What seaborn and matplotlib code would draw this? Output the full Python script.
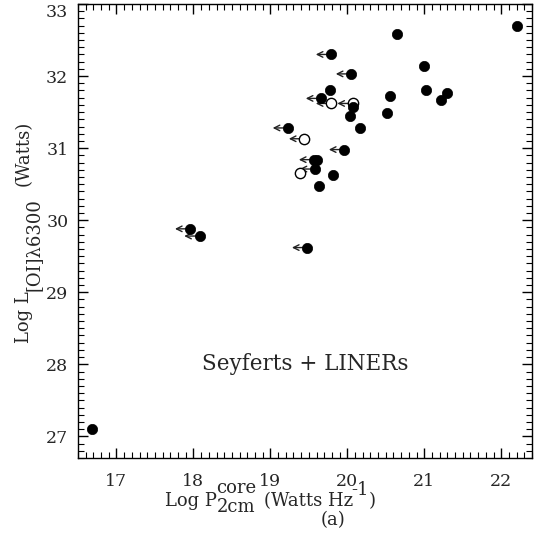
import numpy as np
import pandas as pd
import matplotlib
matplotlib.use("Agg")
import matplotlib.pyplot as plt
import seaborn as sns

# ---- data ----
filled_x = [16.68, 22.21, 19.79, 20.05, 19.78, 19.66, 20.07, 20.04, 19.23, 20.16,
            19.96, 19.57, 19.61, 19.58, 19.82, 19.63, 17.96, 18.08, 19.48,
            20.64, 20.99, 21.02, 20.56, 21.29, 21.22, 20.51]
filled_y = [27.10, 32.70, 32.30, 32.03, 31.80, 31.69, 31.57, 31.45, 31.28, 31.28,
            30.98, 30.84, 30.83, 30.71, 30.63, 30.48, 29.88, 29.78, 29.62,
            32.58, 32.14, 31.80, 31.72, 31.77, 31.67, 31.49]
filled_lim = [0, 0, 1, 1, 0, 1, 0, 0, 1, 0,
              1, 1, 0, 1, 0, 0, 1, 1, 1,
              0, 0, 0, 0, 0, 0, 0]

open_x = [19.79, 20.07, 19.44, 19.39]
open_y = [31.62, 31.62, 31.13, 30.66]
open_lim = [1, 1, 1, 0]

x_ticks = [17, 18, 19, 20, 21, 22]
y_ticks = [27, 28, 29, 30, 31, 32, 33]
annotation = "Seyferts + LINERs"
panel = "(a)"
# (text, vertical offset in px)
xlabel_pieces = [("Log P", 0), ("core", 13), ("2cm", -6),
                 ("(Watts Hz", 0), ("-1", 11), (")", 0)]
ylabel_pieces = [("Log L", 0), ("[OI]\u03bb6300", -10), ("(Watts)", 0)]

df_f = pd.DataFrame({"x": filled_x, "y": filled_y, "lim": filled_lim})
df_o = pd.DataFrame({"x": open_x, "y": open_y, "lim": open_lim})

sns.set_style("ticks")
plt.rcParams["font.family"] = ["DejaVu Serif"]
plt.rcParams["mathtext.fontset"] = "dejavuserif"

W, H = 536, 552
fig = plt.figure(figsize=(W / 100, H / 100), dpi=100)
ax = fig.add_axes([78/W, 1-458/H, (532-78)/W, (458-4)/H])

arrow_len = 0.2
for d in (df_f, df_o):
    for _, r in d[d["lim"] == 1].iterrows():
        ax.annotate("", xy=(r["x"] - arrow_len, r["y"]), xytext=(r["x"], r["y"]),
                    arrowprops=dict(arrowstyle="->", lw=1.0, color="#222222",
                                    shrinkA=0, shrinkB=0, mutation_scale=10),
                    zorder=2)

sns.scatterplot(data=df_o, x="x", y="y", ax=ax, s=55, facecolor="white",
                edgecolor="black", linewidth=1.0, zorder=3, legend=False)
sns.scatterplot(data=df_f, x="x", y="y", ax=ax, s=55, color="black",
                edgecolor="black", linewidth=0.5, zorder=4, legend=False)

ax.set_xlim(16.5, 22.4)
ax.set_ylim(26.7, 33.0)
ax.set_xticks(x_ticks)
ax.set_yticks(y_ticks)
ax.set_xticks(np.arange(16.5, 22.41, 0.1), minor=True)
ax.set_yticks(np.arange(26.7, 33.01, 0.1), minor=True)
ax.tick_params(which="both", direction="in", top=True, right=True, color="black")
ax.tick_params(which="major", length=7, width=1)
ax.tick_params(which="minor", length=4, width=0.8)
ax.tick_params(axis="x", which="major", labelsize=12.5, pad=11)
ax.tick_params(axis="y", which="major", labelsize=12.5, pad=7)
for s in ax.spines.values():
    s.set_color("black")
    s.set_linewidth(1)
ax.set_xlabel("")
ax.set_ylabel("")
ylabs = ax.get_yticklabels()
ylabs[-1].set_verticalalignment("top")

ax.text(19.45, 28.0, annotation, ha="center", va="center", fontsize=15.5)

renderer = fig.canvas.get_renderer()
FS = 13


def text_width(s, fs=FS):
    t = fig.text(0, 0, s, fontsize=fs)
    w = t.get_window_extent(renderer).width
    t.remove()
    return w


def layout(pieces, gap=7):
    widths = [text_width(p[0]) for p in pieces]
    starts = []
    cur = 0.0
    i = 0
    n = len(pieces)
    while i < n:
        off = pieces[i][1]
        if off > 0 and i + 1 < n and pieces[i + 1][1] < 0:
            starts += [cur, cur]
            cur += max(widths[i], widths[i + 1])
            if i + 2 < n:
                cur += gap
            i += 2
            continue
        if off > 0:
            cur -= 2  # tighten superscript against preceding text
        starts.append(cur)
        cur += widths[i]
        if i + 1 < n and pieces[i + 1][1] == 0 and off <= 0:
            cur += gap
        elif i + 1 < n and off < 0:
            cur += gap
        i += 1
    return starts, cur


# x label (horizontal)
starts, total = layout(xlabel_pieces)
x0 = 270 - total / 2
for (txt, off), s in zip(xlabel_pieces, starts):
    fig.text((x0 + s) / W, 1 - (506 - off) / H, txt, fontsize=FS,
             ha="left", va="baseline")

# y label (rotated, reads bottom to top)
starts, total = layout(ylabel_pieces, gap=12)
y0 = 232 + total / 2
for (txt, off), s in zip(ylabel_pieces, starts):
    fig.text((29 - off) / W, 1 - (y0 - s) / H, txt, fontsize=FS,
             ha="left", va="baseline", rotation=90, rotation_mode="anchor")

fig.text(333 / W, 1 - 525 / H, panel, ha="center", va="baseline", fontsize=FS)

fig.savefig("out.png", dpi=100)
